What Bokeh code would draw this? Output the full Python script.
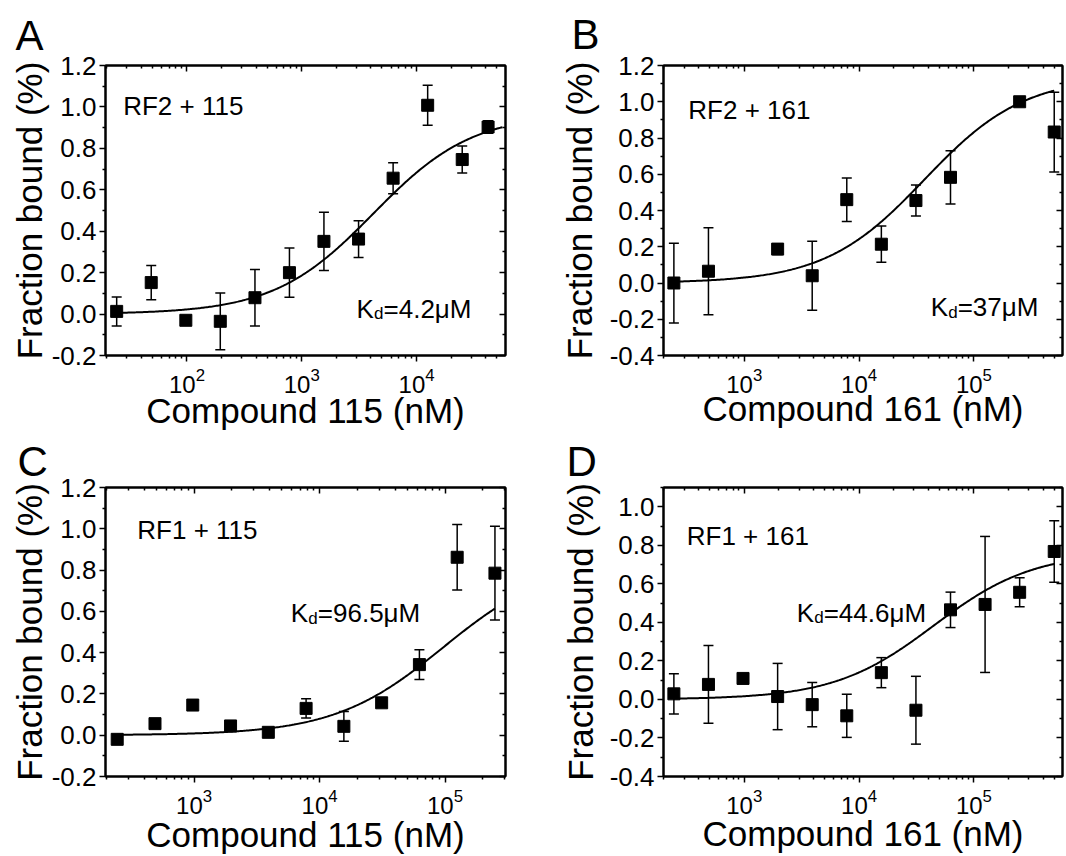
import numpy as np
from bokeh.plotting import figure
from bokeh.models import (ColumnDataSource, Whisker, TeeHead, FixedTicker,
                          PrintfTickFormatter, LinearAxis, LogAxis, Label)
from bokeh.layouts import gridplot
from bokeh.embed import file_html
from bokeh.resources import INLINE

FONT = "Liberation Sans"

# ---------------- data ----------------
# Panel A: RF2 + 115
a_conc = [24.4, 48.8, 97.7, 195, 391, 781, 1560, 3125, 6250, 12500, 25000, 42000]
a_frac = [0.013, 0.152, -0.030, -0.035, 0.079, 0.200, 0.351, 0.362, 0.656, 1.008, 0.746, 0.903]
a_err = [0.070, 0.083, 0.012, 0.137, 0.136, 0.119, 0.141, 0.089, 0.075, 0.097, 0.065, 0.030]
a_kd_nM = 4200
a_bmax = 0.97

# Panel B: RF2 + 161
b_conc = [244, 488, 1953, 3906, 7812, 15625, 31250, 62500, 250000, 500000]
b_frac = [0.000, 0.065, 0.187, 0.040, 0.460, 0.214, 0.455, 0.583, 1.000, 0.833]
b_err = [0.220, 0.240, 0.030, 0.190, 0.120, 0.100, 0.086, 0.147, 0.010, 0.220]
b_kd_nM = 37000
b_bmax = 1.14

# Panel C: RF1 + 115
c_conc = [244, 488, 976, 1953, 3906, 7812, 15625, 31250, 62500, 125000, 250000]
c_frac = [-0.020, 0.056, 0.146, 0.045, 0.014, 0.130, 0.043, 0.157, 0.342, 0.862, 0.785]
c_err = [0.010, 0.012, 0.012, 0.015, 0.010, 0.047, 0.072, 0.020, 0.072, 0.159, 0.227]
c_kd_nM = 96500
c_bmax = 0.85

# Panel D: RF1 + 161
d_conc = [244, 488, 976, 1953, 3906, 7812, 15625, 31250, 62500, 125000, 250000, 500000]
d_frac = [0.029, 0.078, 0.109, 0.015, -0.027, -0.085, 0.139, -0.056, 0.465, 0.493, 0.556, 0.768]
d_err = [0.104, 0.202, 0.015, 0.172, 0.115, 0.112, 0.078, 0.176, 0.092, 0.353, 0.075, 0.160]
d_kd_nM = 44600
d_bmax = 0.766

# tick labels / texts
y_title = "Fraction bound (%)"
x_titles = ["Compound 115 (nM)", "Compound 161 (nM)", "Compound 115 (nM)", "Compound 161 (nM)"]
panel_letters = ["A", "B", "C", "D"]
pair_labels = ["RF2 + 115", "RF2 + 161", "RF1 + 115", "RF1 + 161"]
kd_values = ["=4.2\u03bcM", "=37\u03bcM", "=96.5\u03bcM", "=44.6\u03bcM"]


def minor_log(lo, hi):
    out = []
    for e in range(lo, hi + 1):
        for m in range(2, 10):
            out.append(m * 10 ** e)
    return out


def make_panel(conc, frac, err, kd, bmax, curve_end, xr, yr, yticks, yminor,
               xticks, xminor, border, size, letter, letter_offset, letter_standoff,
               xlab_standoff, ylab_standoff, pair, pair_pos, kdtxt, kd_pos, xtitle):
    w, h = size
    bl, br, bt, bb = border
    p = figure(width=w, height=h, x_axis_type="log",
               x_range=xr, y_range=yr, output_backend="svg",
               toolbar_location=None, min_border_left=bl, min_border_right=br,
               min_border_top=bt, min_border_bottom=bb,
               background_fill_color="white", border_fill_color="white")
    p.grid.visible = False
    p.outline_line_color = "black"
    p.outline_line_width = 2

    # panel letter as a left-aligned title shifted to the left edge
    p.title.text = letter
    p.title.text_font = FONT
    p.title.text_font_size = "42px"
    p.title.text_font_style = "normal"
    p.title.text_color = "black"
    p.title.align = "left"
    p.title.offset = letter_offset
    p.title.standoff = letter_standoff

    # bottom / left axes (outward ticks)
    xa = p.xaxis[0]
    xa.ticker = FixedTicker(ticks=xticks, minor_ticks=xminor)
    ya = p.yaxis[0]
    ya.ticker = FixedTicker(ticks=yticks, minor_ticks=yminor)
    ya.formatter = PrintfTickFormatter(format="%.1f")
    for ax in (xa, ya):
        ax.axis_line_width = 2
        ax.major_tick_line_width = 1.5
        ax.minor_tick_line_width = 1.5
        ax.major_tick_out = 6
        ax.major_tick_in = 0
        ax.minor_tick_out = 3
        ax.minor_tick_in = 0
        ax.major_label_text_font = FONT
        ax.major_label_text_color = "black"
        ax.axis_label_text_font = FONT
        ax.axis_label_text_font_style = "normal"
        ax.axis_label_text_color = "black"
        ax.axis_label_text_font_size = "35px"
    xa.major_label_text_font_size = "24px"
    xa.axis_label = xtitle
    xa.major_label_standoff = 6
    xa.axis_label_standoff = xlab_standoff
    ya.major_label_text_font_size = "26px"
    ya.axis_label = y_title
    ya.major_label_standoff = 3
    ya.axis_label_standoff = ylab_standoff

    # mirrored top / right axes (inward ticks, no visible labels)
    top = LogAxis(ticker=FixedTicker(ticks=xticks, minor_ticks=xminor))
    right = LinearAxis(ticker=FixedTicker(ticks=yticks, minor_ticks=yminor))
    for ax in (top, right):
        ax.axis_line_width = 2
        ax.major_tick_line_width = 1.5
        ax.minor_tick_line_width = 1.5
        ax.major_tick_in = 6
        ax.major_tick_out = 0
        ax.minor_tick_in = 3
        ax.minor_tick_out = 0
        ax.major_label_text_font_size = "1px"
        ax.major_label_text_alpha = 0
        ax.major_label_standoff = 0
    p.add_layout(top, "above")
    p.add_layout(right, "right")

    # fitted binding curve: bmax * x / (Kd + x)
    cx = np.logspace(np.log10(conc[0]), np.log10(curve_end), 300)
    cy = bmax * cx / (kd + cx)
    p.line(cx, cy, line_color="black", line_width=2)

    src = ColumnDataSource(dict(x=conc, y=frac,
                                lo=[f - e for f, e in zip(frac, err)],
                                hi=[f + e for f, e in zip(frac, err)]))
    wk = Whisker(base="x", upper="hi", lower="lo", source=src,
                 line_color="black", line_width=1.5,
                 upper_head=TeeHead(size=10, line_color="black", line_width=1.5),
                 lower_head=TeeHead(size=10, line_color="black", line_width=1.5))
    p.add_layout(wk)
    p.scatter("x", "y", source=src, marker="square", size=12,
              fill_color="black", line_color="black")

    # texts inside the frame
    p.add_layout(Label(x=pair_pos[0], y=pair_pos[1], text=pair,
                       text_font=FONT, text_font_size="26px", text_color="black",
                       text_baseline="alphabetic"))
    p.add_layout(Label(x=kd_pos[0], y=kd_pos[1], text="K",
                       text_font=FONT, text_font_size="26px", text_color="black",
                       text_baseline="alphabetic"))
    p.add_layout(Label(x=kd_pos[0], y=kd_pos[1], text="d", x_offset=17.5, y_offset=-5,
                       text_font=FONT, text_font_size="17px", text_color="black",
                       text_baseline="alphabetic"))
    p.add_layout(Label(x=kd_pos[0], y=kd_pos[1], text=kdtxt, x_offset=27,
                       text_font=FONT, text_font_size="26px", text_color="black",
                       text_baseline="alphabetic"))
    return p


yt_a = [-0.2, 0.0, 0.2, 0.4, 0.6, 0.8, 1.0, 1.2]
ym_a = [-0.1, 0.1, 0.3, 0.5, 0.7, 0.9, 1.1]
yt_b = [-0.4, -0.2, 0.0, 0.2, 0.4, 0.6, 0.8, 1.0, 1.2]
ym_b = [-0.3, -0.1, 0.1, 0.3, 0.5, 0.7, 0.9, 1.1]
yt_d = [-0.4, -0.2, 0.0, 0.2, 0.4, 0.6, 0.8, 1.0]
ym_d = [-0.3, -0.1, 0.1, 0.3, 0.5, 0.7, 0.9, 1.1]

pA = make_panel(a_conc, a_frac, a_err, a_kd_nM, a_bmax, 56000,
                (10 ** 1.29, 10 ** 4.775), (-0.2, 1.2), yt_a, ym_a,
                [100, 1000, 10000], minor_log(1, 4),
                (105, 27, 63, 74), (533, 432), panel_letters[0], -90, 14, -5, 0,
                pair_labels[0], (27.8, 1.005), kd_values[0], (3000, 0.025), x_titles[0])
pB = make_panel(b_conc, b_frac, b_err, b_kd_nM, b_bmax, 500000,
                (10 ** 2.297, 10 ** 5.771), (-0.4, 1.2), yt_b, ym_b,
                [1000, 10000, 100000], minor_log(2, 5),
                (130, 4, 65, 72), (533, 432), panel_letters[1], -92, 16, -7, 8,
                pair_labels[1], (326, 0.955), kd_values[1], (42000, -0.135), x_titles[1])
pC = make_panel(c_conc, c_frac, c_err, c_kd_nM, c_bmax, 250000,
                (10 ** 2.294, 10 ** 5.482), (-0.2, 1.2), yt_a, ym_a,
                [1000, 10000, 100000], minor_log(2, 5),
                (103, 28, 55, 77), (533, 424), panel_letters[2], -88, 6, -2, 0,
                pair_labels[2], (353, 0.995), kd_values[2], (5900, 0.59), x_titles[2])
pD = make_panel(d_conc, d_frac, d_err, d_kd_nM, d_bmax, 500000,
                (10 ** 2.297, 10 ** 5.771), (-0.4, 1.1), yt_d, ym_d,
                [1000, 10000, 100000], minor_log(2, 5),
                (129, 4, 55, 76), (533, 424), panel_letters[3], -97, 6, -3, 7,
                pair_labels[3], (316, 0.85), kd_values[3], (2860, 0.45), x_titles[3])

grid = gridplot([[pA, pB], [pC, pD]], toolbar_location=None)
open("out.html", "w").write(file_html(grid, INLINE))
